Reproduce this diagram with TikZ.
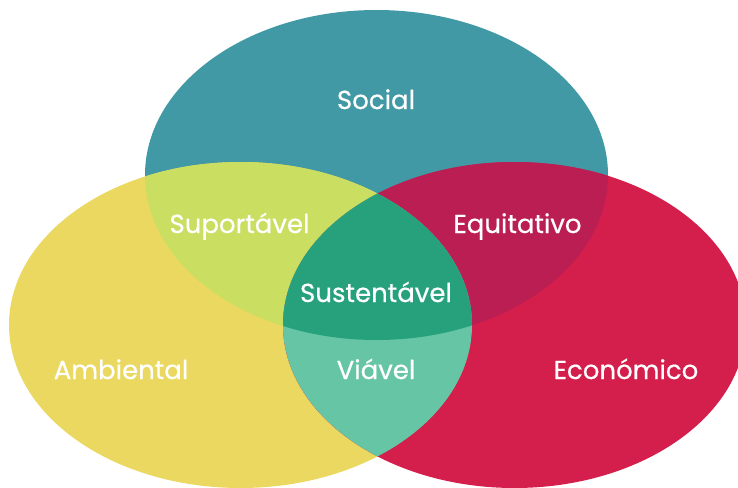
\documentclass[tikz,border=0pt]{standalone}
\usepackage{fontspec}
\newfontfamily\poppins[FakeBold=0.5]{Poppins}

\definecolor{socialteal}{HTML}{4299A6}
\definecolor{ambientyellow}{HTML}{EBD860}
\definecolor{economred}{HTML}{D41E4C}
\definecolor{suportgreen}{HTML}{CADE62}
\definecolor{equitred}{HTML}{BA1E52}
\definecolor{sustentgreen}{HTML}{26A17C}
\definecolor{viavelgreen}{HTML}{65C5A4}

% the three circles of the diagram
\def\socialset{(376.5,175) ellipse [x radius=231.5, y radius=165]}
\def\ambientset{(240.5,325) ellipse [x radius=231.5, y radius=163]}
\def\economset{(514.5,325) ellipse [x radius=231.5, y radius=163]}

\begin{document}
\begin{tikzpicture}[x=1pt, y=-1pt,
area/.style={text=white, anchor=base, inner sep=0pt, font=\poppins\fontsize{26}{26}\selectfont},
]
\useasboundingbox (0,0) rectangle (738,487);
\clip (0,0) rectangle (738,487);

\fill[socialteal] \socialset;
\fill[ambientyellow] \ambientset;
\fill[economred] \economset;

% pairwise overlaps
\begin{scope}
    \clip \socialset;
    \fill[suportgreen] \ambientset;
    \fill[equitred] \economset;
\end{scope}
\begin{scope}
    \clip \ambientset;
    \fill[viavelgreen] \economset;
\end{scope}
% all three
\begin{scope}
    \clip \socialset;
    \clip \ambientset;
    \fill[sustentgreen] \economset;
\end{scope}

\node[area] (social) at (376,109) {Social};
\node[area] (suportavel) at (239.5,233) {Suportável};
\node[area] (equitativo) at (517.5,233) {Equitativo};
\node[area] (sustentavel) at (376,302) {Sustentável};
\node[area] (ambiental) at (121,379) {Ambiental};
\node[area] (viavel) at (376,379) {Viável};
\node[area] (economico) at (626,379) {Económico};
\end{tikzpicture}
\end{document}
